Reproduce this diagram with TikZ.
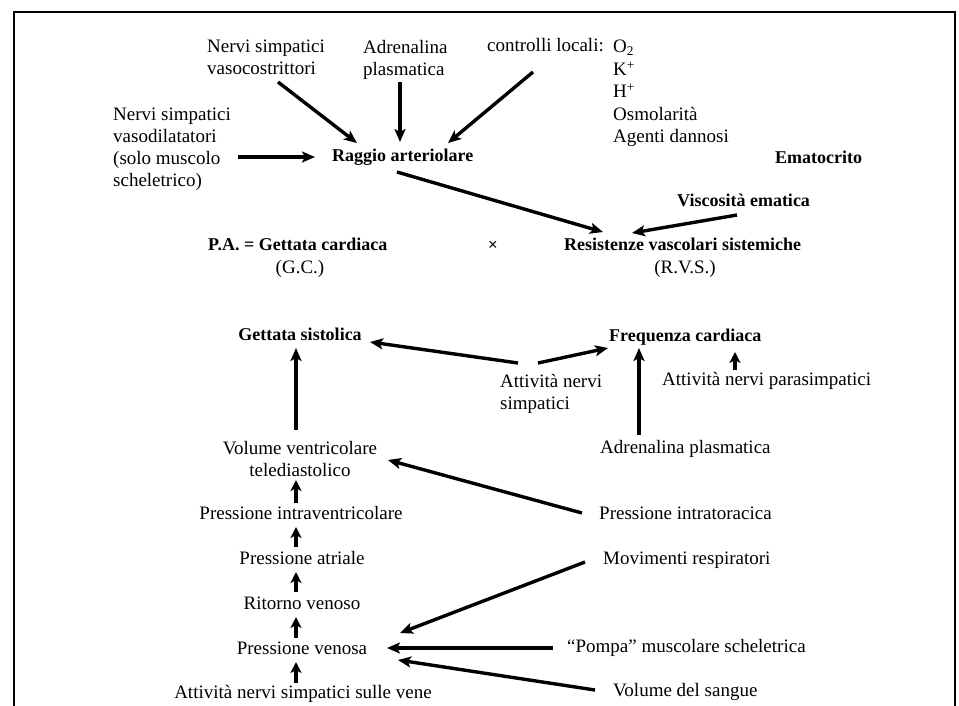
\documentclass[tikz,border=0pt]{standalone}
\usepackage{fontspec}
\setmainfont{Liberation Serif}
\usetikzlibrary{arrows.meta}
\begin{document}
\begin{tikzpicture}[x=1pt,y=-1pt,
  txt/.style={inner sep=0pt,font=\fontsize{19}{22}\selectfont},
  btxt/.style={inner sep=0pt,font=\fontsize{18}{22}\selectfont\bfseries},
  arr/.style={line width=3.4pt,-{Stealth[length=13pt,width=11pt,inset=3pt]}},
  sarr/.style={line width=3.2pt,-{Stealth[length=11pt,width=11pt,inset=3pt]}},
  frame/.style={line width=1.8pt}]
\useasboundingbox (0,0) rectangle (959,705);
% frame
\draw[frame] (14,712) -- (14,12) -- (955,12) -- (955,712);
% top part
\node[txt,align=left,anchor=north west] (ncos) at (207,40) {Nervi simpatici\\vasocostrittori};
\node[txt,align=left,anchor=north west] (nadr) at (363,40) {Adrenalina\\plasmatica};
\node[txt,anchor=mid west] (nloc) at (487,49) {controlli locali:};
\node[txt,align=left,anchor=north west,font=\fontsize{19}{22.5}\selectfont] (nlist) at (613,40) {O\textsubscript{2}\\K\textsuperscript{+}\\H\textsuperscript{+}\\Osmolarità\\Agenti dannosi};
\node[txt,align=left,anchor=north west] (ndil) at (113,108) {Nervi simpatici\\vasodilatatori\\(solo muscolo\\scheletrico)};
\node[btxt,anchor=mid west] (raggio) at (332,159) {Raggio arteriolare};
\node[btxt,anchor=mid west] (emato) at (775,161) {Ematocrito};
\node[btxt,anchor=mid west] (visc) at (677,204) {Viscosità ematica};
\node[btxt,anchor=mid west] (pa) at (208,248) {P.A. = Gettata cardiaca};
\node[txt,anchor=mid] (gc) at (300,271) {(G.C.)};
\node[inner sep=0pt,font=\fontsize{17}{20}\selectfont\bfseries,anchor=mid] (per) at (493,248) {×};
\node[btxt,anchor=mid west] (rvs) at (564,248) {Resistenze vascolari sistemiche};
\node[txt,anchor=mid] (rvsab) at (685,271) {(R.V.S.)};
% top arrows
\draw[arr] ([shift={(71,42)}]ncos.north west) -- ([shift={(25,-16)}]raggio.mid west);
\draw[arr] ([shift={(37,42)}]nadr.north west) -- ([shift={(68,-17)}]raggio.mid west);
\draw[arr] ([shift={(46,23)}]nloc.mid west) -- ([shift={(116,-16)}]raggio.mid west);
\draw[arr] ([shift={(125,49)}]ndil.north west) -- ([shift={(-17,-2)}]raggio.mid west);
\draw[arr] ([shift={(65,13)}]raggio.mid west) -- ([shift={(39,-16)}]rvs.mid west);
\draw[arr] ([shift={(60,11)}]visc.mid west) -- ([shift={(68,-15)}]rvs.mid west);
% lower part, left column
\node[btxt,anchor=mid] (gs) at (300,338) {Gettata sistolica};
\node[txt,align=center,anchor=north] (vvt) at (300,441) {Volume ventricolare\\telediastolico};
\node[txt,anchor=mid] (piv) at (301,517) {Pressione intraventricolare};
\node[txt,anchor=mid] (pat) at (302,562) {Pressione atriale};
\node[txt,anchor=mid] (rv) at (302,607) {Ritorno venoso};
\node[txt,anchor=mid] (pv) at (302,652) {Pressione venosa};
\node[txt,anchor=mid] (ans) at (303,696) {Attività nervi simpatici sulle vene};
% lower part, right column
\node[btxt,anchor=mid west] (fc) at (609,339) {Frequenza cardiaca};
\node[txt,align=left,anchor=north west] (ans2) at (500,374) {Attività nervi\\simpatici};
\node[txt,anchor=mid west] (adr2) at (600,451) {Adrenalina plasmatica};
\node[txt,anchor=mid west] (anp) at (662,383) {Attività nervi parasimpatici};
\node[txt,anchor=mid west] (pit) at (599,517) {Pressione intratoracica};
\node[txt,anchor=mid west] (mr) at (603,562) {Movimenti respiratori};
\node[txt,anchor=mid west] (pomp) at (567,650) {“Pompa” muscolare scheletrica};
\node[txt,anchor=mid west] (vs) at (613,694) {Volume del sangue};
% vertical chain
\draw[arr] ([shift={(-4,-11)}]vvt.north) -- ([shift={(-4,10)}]gs.mid);
\draw[sarr] ([shift={(-5,-14)}]piv.mid) -- ([shift={(-4,39)}]vvt.north);
\draw[sarr] ([shift={(-6,-15)}]pat.mid) -- ([shift={(-5,10)}]piv.mid);
\draw[sarr] ([shift={(-6,-15)}]rv.mid) -- ([shift={(-6,10)}]pat.mid);
\draw[sarr] ([shift={(-6,-14)}]pv.mid) -- ([shift={(-6,10)}]rv.mid);
\draw[sarr] ([shift={(-7,-13)}]ans.mid) -- ([shift={(-6,10)}]pv.mid);
% right-side arrows
\draw[arr] ([shift={(18,-11)}]ans2.north west) -- ([shift={(70,4)}]gs.mid);
\draw[arr] ([shift={(38,-11)}]ans2.north west) -- ([shift={(-1,9)}]fc.mid west);
\draw[arr] ([shift={(39,-16)}]adr2.mid west) -- ([shift={(30,9)}]fc.mid west);
\draw[sarr] ([shift={(73,-13)}]anp.mid west) -- ([shift={(126,13)}]fc.mid west);
\draw[arr] ([shift={(-17,-4)}]pit.mid west) -- ([shift={(88,19)}]vvt.north);
\draw[arr] ([shift={(-18,0)}]mr.mid west) -- ([shift={(98,-19)}]pv.mid);
\draw[arr] ([shift={(-14,-2)}]pomp.mid west) -- ([shift={(85,-4)}]pv.mid);
\draw[arr] ([shift={(-18,-4)}]vs.mid west) -- ([shift={(96,8)}]pv.mid);
\end{tikzpicture}
\end{document}
